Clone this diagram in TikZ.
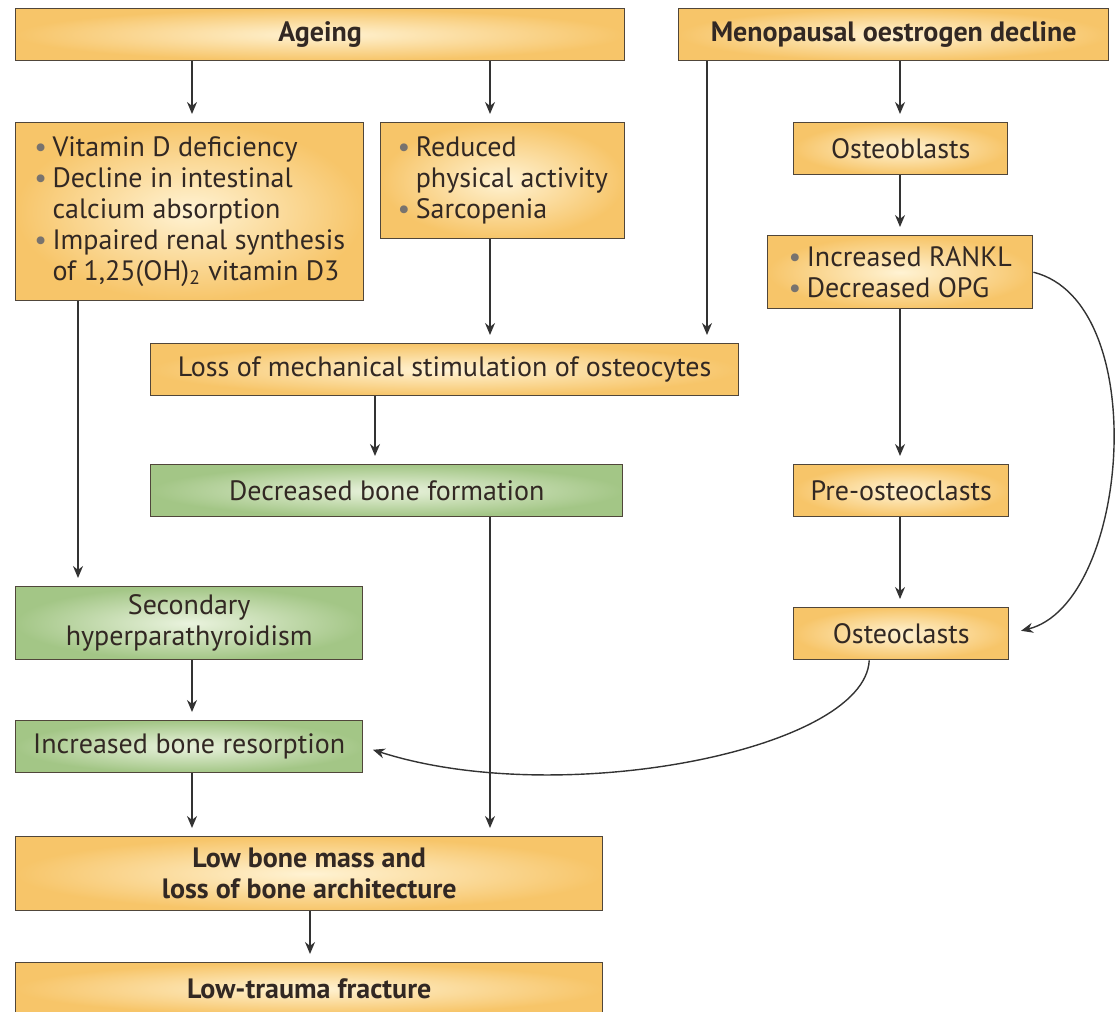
\documentclass[tikz,border=0pt]{standalone}
\usepackage{fontspec}
\setmainfont{PT Sans}
\usetikzlibrary{arrows.meta}

\definecolor{boxorange}{RGB}{247,197,105}
\definecolor{boxcream}{RGB}{255,243,212}
\definecolor{boxgreen}{RGB}{163,198,134}
\definecolor{boxmint}{RGB}{234,243,222}
\definecolor{edgegray}{RGB}{80,70,58}
\definecolor{textdark}{RGB}{50,40,35}
\definecolor{bulgray}{RGB}{120,115,110}
\newcommand{\bul}{\makebox[0.65em][l]{\textcolor{bulgray}{\textbullet}}}
\newcommand{\bulskip}{\hspace*{0.65em}}

\begin{document}
\begin{tikzpicture}[
		x=0.5pt, y=-0.5pt,
		ybox/.style={rectangle, draw=edgegray, line width=0.7pt, inner color=boxcream, outer color=boxorange, anchor=north west, inner sep=0pt, align=center, text=textdark, font=\fontsize{14}{15.5}\selectfont},
		gbox/.style={ybox, inner color=boxmint, outer color=boxgreen},
		head/.style={font=\fontsize{14}{15.5}\selectfont\bfseries},
		link/.style={draw=black!80, line width=0.7pt, -{Stealth[length=6pt,width=5pt]}, shorten >=4pt}
	]
	\useasboundingbox (0,0) rectangle (1117,1011);
	% top row
	\node[ybox, head, minimum width=304.5pt, minimum height=26pt] (ageing) at (15,8) {Ageing};
	\node[ybox, head, minimum width=215pt, minimum height=26pt] (meno) at (678,8) {Menopausal oestrogen decline};
	% ageing branch
	\node[ybox, align=left, minimum width=174pt, minimum height=89pt] (vitd) at (15,122) {\bul Vitamin D deficiency\\\bul Decline in intestinal\\\bulskip calcium absorption\\\bul Impaired renal synthesis\\\bulskip of 1,25(OH)\textsubscript{2} vitamin D3};
	\node[ybox, align=left, minimum width=122pt, minimum height=58pt] (reduced) at (380,122) {\bul Reduced\\\bulskip physical activity\\\bul Sarcopenia};
	\node[ybox, minimum width=294pt, minimum height=26pt] (mech) at (150,343) {Loss of mechanical stimulation of osteocytes};
	\node[gbox, minimum width=236pt, minimum height=26pt] (formation) at (150,464) {Decreased bone formation};
	\node[gbox, minimum width=173.5pt, minimum height=36.5pt] (hyper) at (15,586) {Secondary\\hyperparathyroidism};
	\node[gbox, minimum width=173.5pt, minimum height=26pt] (resorb) at (15,720) {Increased bone resorption};
	% oestrogen branch
	\node[ybox, minimum width=107pt, minimum height=26pt] (oblast) at (793,122) {Osteoblasts};
	\node[ybox, align=left, minimum width=132.5pt, minimum height=36.5pt] (rankl) at (767,235) {\bul Increased RANKL\\\bul Decreased OPG};
	\node[ybox, minimum width=107.5pt, minimum height=26pt] (preocl) at (793,464) {Pre-osteoclasts};
	\node[ybox, minimum width=107.5pt, minimum height=26pt] (ocl) at (793,607) {Osteoclasts};
	% outcome
	\node[ybox, head, minimum width=293.5pt, minimum height=37pt] (lowmass) at (15,836) {Low bone mass and\\loss of bone architecture};
	\node[ybox, head, minimum width=293.5pt, minimum height=26pt] (fracture) at (15,962) {Low-trauma fracture};
	% arrow columns
	\coordinate (colA) at (78,0);
	\coordinate (colB) at (192,0);
	\coordinate (colC) at (375,0);
	\coordinate (colD) at (490,0);
	\coordinate (colE) at (707,0);
	\coordinate (colF) at (900,0);
	\coordinate (colG) at (310,0);
	\draw[link] (ageing.south -| colB) -- (vitd.north -| colB);
	\draw[link] (ageing.south -| colD) -- (reduced.north -| colD);
	\draw[link] (reduced.south -| colD) -- (mech.north -| colD);
	\draw[link] (meno.south -| colE) -- (mech.north -| colE);
	\draw[link] (mech.south -| colC) -- (formation.north -| colC);
	\draw[link] (formation.south -| colD) -- (lowmass.north -| colD);
	\draw[link] (vitd.south -| colA) -- (hyper.north -| colA);
	\draw[link] (hyper.south -| colB) -- (resorb.north -| colB);
	\draw[link] (resorb.south -| colB) -- (lowmass.north -| colB);
	\draw[link] (lowmass.south -| colG) -- (fracture.north -| colG);
	\draw[link] (meno.south -| colF) -- (oblast.north -| colF);
	\draw[link] (oblast.south -| colF) -- (rankl.north -| colF);
	\draw[link] (rankl.south -| colF) -- (preocl.north -| colF);
	\draw[link] (preocl.south -| colF) -- (ocl.north -| colF);
	% curved links
	\draw[link, shorten >=6pt] (rankl.east) .. controls +(120,30) and +(120,-30) .. (ocl.east);
	\draw[link, shorten >=5pt] ([xshift=-16pt]ocl.south) .. controls (865,750) and (560,810) .. (resorb.east);
\end{tikzpicture}
\end{document}
